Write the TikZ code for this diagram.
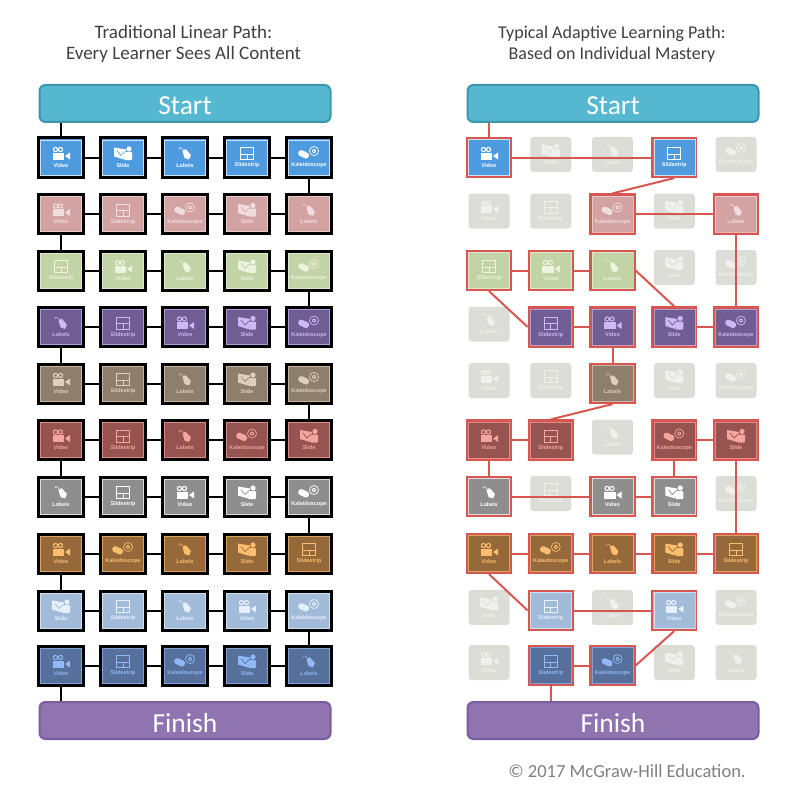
\documentclass[tikz,border=0pt]{standalone}
\usepackage{fontspec}
\setmainfont{Carlito}
\newfontfamily\tilefont{Liberation Sans}
\usepackage{xcolor}
\usetikzlibrary{calc}
\definecolor{startteal}{RGB}{85,184,208}
\definecolor{startedge}{RGB}{62,150,172}
\definecolor{finishpurple}{RGB}{143,116,176}
\definecolor{finishedge}{RGB}{120,94,158}
\definecolor{pathred}{RGB}{216,86,80}
\definecolor{idlegrey}{RGB}{221,221,216}
\definecolor{idlefg}{RGB}{240,240,237}
\definecolor{rowblue}{RGB}{79,155,223}
\definecolor{rowbluefg}{RGB}{255,255,255}
\definecolor{rowpink}{RGB}{211,163,163}
\definecolor{rowpinkfg}{RGB}{240,222,222}
\definecolor{rowgreen}{RGB}{194,211,165}
\definecolor{rowgreenfg}{RGB}{236,243,222}
\definecolor{rowpurple}{RGB}{111,93,148}
\definecolor{rowpurplefg}{RGB}{205,185,245}
\definecolor{rowtaupe}{RGB}{142,127,109}
\definecolor{rowtaupefg}{RGB}{222,208,188}
\definecolor{rowred}{RGB}{151,83,79}
\definecolor{rowredfg}{RGB}{245,165,160}
\definecolor{rowgrey}{RGB}{142,142,142}
\definecolor{rowgreyfg}{RGB}{255,255,255}
\definecolor{rowbrown}{RGB}{150,105,58}
\definecolor{rowbrownfg}{RGB}{250,190,110}
\definecolor{rowsky}{RGB}{162,187,217}
\definecolor{rowskyfg}{RGB}{230,240,252}
\definecolor{rownavy}{RGB}{86,111,155}
\definecolor{rownavyfg}{RGB}{145,185,245}
\tikzstyle{banner} = [rectangle, rounded corners=6pt, minimum width=291pt, minimum height=37pt, inner sep=0pt, text height=23pt, text depth=0pt, text centered, line width=2pt, text=white, font=\fontsize{27.5}{27.5}\selectfont]
\tikzstyle{heading} = [align=center, text=black!75]
\tikzstyle{blackbox} = [rectangle, minimum width=45pt, minimum height=39pt, inner sep=0pt, draw=black, line width=3pt]
\tikzstyle{redbox} = [rectangle, minimum width=44pt, minimum height=39pt, inner sep=0pt, draw=pathred, line width=2.2pt]
\tikzstyle{rim} = [rectangle, inner sep=0pt, line width=0.5pt, draw opacity=0.7]
\tikzstyle{idlebox} = [rectangle, rounded corners=3pt, minimum width=41pt, minimum height=35pt, inner sep=0pt, fill=idlegrey]
\tikzstyle{tiletext} = [inner sep=0pt, text=tilefg, font=\tilefont\bfseries\fontsize{5.4}{6}\selectfont]
\tikzstyle{blackline} = [line width=2pt, color=black]
\tikzstyle{redline} = [line width=2pt, color=pathred]
% Icons, drawn round (0,0) in tilefg and tilebg
\newcommand{\iconVideo}{
  \draw[tilefg, line width=1.1pt] (-5.5,-4) circle (2.1) (-0.5,-4) circle (2.1);
  \fill[tilefg] (-8.5,-1) rectangle (3,6);
  \fill[tilefg] (4,2.5) -- (9,-1) -- (9,6) -- cycle;
}
\newcommand{\iconSlide}{
  \fill[tilefg] (-9,-6) -- (3,-4) -- (1,6) -- (-9,3) -- cycle;
  \draw[tilebg, line width=0.7pt] (-6,-3) -- (-2,2) -- (2,-2);
  \fill[tilefg] (6,-4.5) circle (2.6);
  \fill[tilefg, rounded corners=1pt] (2,-1.5) -- (9,-1.5) -- (9,6.5) -- (1,6.5) -- cycle;
}
\newcommand{\iconLabels}{
  \fill[tilefg, rounded corners=0.6pt] (-2.5,-2.5) -- (0.5,-4.5) -- (6,1.5) -- (4,6) -- (-0.5,4.5) -- cycle;
  \draw[tilefg, line width=0.5pt] (-1.5,-2.5) .. controls (-3,-6) and (-6,-7) .. (-6,-4);
}
\newcommand{\iconSlidestrip}{
  \draw[tilefg, line width=1pt] (-6.5,-6) rectangle (6.5,6);
  \draw[tilefg, line width=1pt] (-6.5,0.5) -- (6.5,0.5) (0,0.5) -- (0,6);
}
\newcommand{\iconKaleidoscope}{
  \fill[tilefg, rotate=-25, rounded corners=2.5pt] (-10,0) rectangle (1,6);
  \draw[tilefg, line width=0.7pt] (5,-2.5) circle (4.5);
  \fill[tilefg] (5,-2.5) circle (2);
  \fill[tilebg] (5,-2.5) circle (0.8);
}
% Row: y / fill / foreground / tiles / tiles on the adaptive path
\def\rowdata{157.5/rowblue/rowbluefg/{Video,Slide,Labels,Slidestrip,Kaleidoscope}/{1,4},
  214/rowpink/rowpinkfg/{Video,Slidestrip,Kaleidoscope,Slide,Labels}/{3,5},
  270.5/rowgreen/rowgreenfg/{Slidestrip,Video,Labels,Slide,Kaleidoscope}/{1,2,3},
  327/rowpurple/rowpurplefg/{Labels,Slidestrip,Video,Slide,Kaleidoscope}/{2,3,4,5},
  383.5/rowtaupe/rowtaupefg/{Video,Slidestrip,Labels,Slide,Kaleidoscope}/{3},
  440/rowred/rowredfg/{Video,Slidestrip,Labels,Kaleidoscope,Slide}/{1,2,4,5},
  496.5/rowgrey/rowgreyfg/{Labels,Slidestrip,Video,Slide,Kaleidoscope}/{1,3,4},
  553.5/rowbrown/rowbrownfg/{Video,Kaleidoscope,Labels,Slide,Slidestrip}/{1,2,3,4,5},
  610.5/rowsky/rowskyfg/{Slide,Slidestrip,Labels,Video,Kaleidoscope}/{2,4},
  665.5/rownavy/rownavyfg/{Video,Slidestrip,Kaleidoscope,Slide,Labels}/{2,3}}
% Icon and caption of a tile: name, x, y, kind
\newcommand{\tileface}[4]{
  \begin{scope}[shift={(#2,#3-4)}]
    \csname icon#4\endcsname
  \end{scope}
  \node[tiletext] (#1-text) at (#2,#3+8) {#4};
}

\begin{document}
\begin{tikzpicture}[x=1pt, y=-1pt]
\useasboundingbox (0,0) rectangle (800,797);

% Headings
\node[heading, font=\fontsize{19}{21.5}\selectfont] (titleleft) at (183.5,44) {Traditional Linear Path:\\Every Learner Sees All Content};
\node[heading, font=\fontsize{18}{21}\selectfont] (titleright) at (612,44) {Typical Adaptive Learning Path:\\Based on Individual Mastery};

% Start and finish bars
\node[banner, draw=startedge, fill=startteal] (startleft) at (185,103.5) {Start};
\node[banner, draw=startedge, fill=startteal] (startright) at (613,103.5) {Start};
\node[banner, draw=finishedge, fill=finishpurple] (finishleft) at (185,720.5) {Finish};
\node[banner, draw=finishedge, fill=finishpurple] (finishright) at (613,720.5) {Finish};

% Linear path tiles
\foreach \y/\bg/\fg/\kinds/\act [count=\r] in \rowdata {
  \colorlet{tilefg}{\fg}
  \colorlet{tilebg}{\bg}
  \foreach \k [count=\c] in \kinds {
    \pgfmathsetmacro{\x}{61+62*(\c-1)}
    \node[blackbox, fill=\bg] (l\r-\c) at (\x,\y) {};
    \node[rim, draw=\fg, minimum width=41pt, minimum height=35pt] (l\r-\c-rim) at (\x,\y) {};
    \tileface{l\r-\c}{\x}{\y}{\k}
  }
}

% Adaptive path tiles
\foreach \y/\bg/\fg/\kinds/\act [count=\r] in \rowdata {
  \foreach \k [count=\c] in \kinds {
    \pgfmathsetmacro{\x}{489+61.75*(\c-1)}
    \gdef\onpath{0}
    \foreach \a in \act {\ifnum\a=\c \gdef\onpath{1}\fi}
    \ifnum\onpath=1
      \colorlet{tilefg}{\fg}
      \colorlet{tilebg}{\bg}
      \node[redbox, fill=\bg] (a\r-\c) at (\x,\y) {};
      \node[rim, draw=\fg, minimum width=41pt, minimum height=36pt] (a\r-\c-rim) at (\x,\y) {};
      \tileface{a\r-\c}{\x}{\y}{\k}
    \else
      \colorlet{tilefg}{idlefg}
      \colorlet{tilebg}{idlegrey}
      \pgfmathsetmacro{\yy}{\y-3}
      \node[idlebox] (a\r-\c) at (\x,\yy) {};
      \tileface{a\r-\c}{\x}{\yy}{\k}
    \fi
  }
}

% Linear connections
\draw[blackline] (l1-1.north) -- (l1-1.north |- startleft.south);
\foreach \r in {1,...,10} {
  \foreach \c [evaluate=\c as \n using int(\c+1)] in {1,...,4} {
    \draw[blackline] (l\r-\c.east) -- (l\r-\n.west);
  }
}
\foreach \a/\b/\c in {1/2/5, 2/3/1, 3/4/5, 4/5/1, 5/6/5, 6/7/1, 7/8/5, 8/9/1, 9/10/5} {
  \draw[blackline] (l\a-\c.south) -- (l\b-\c.north);
}
\draw[blackline] (l10-1.south) -- (l10-1.south |- finishleft.north);

% Adaptive connections, straight across a row
\foreach \a/\b in {a1-1/a1-4, a2-3/a2-5, a3-1/a3-2, a3-2/a3-3, a4-2/a4-3, a4-4/a4-5,
    a6-1/a6-2, a6-4/a6-5, a7-1/a7-3, a7-3/a7-4, a8-1/a8-2, a8-2/a8-3, a8-3/a8-4,
    a8-4/a8-5, a9-2/a9-4, a10-2/a10-3} {
  \draw[redline] (\a.east) -- (\b.west);
}
% Adaptive connections, down a column
\foreach \a/\b in {a2-5/a4-5, a4-3/a5-3, a6-1/a7-1, a6-4/a7-4, a6-5/a8-5} {
  \draw[redline] (\a.south) -- (\b.north);
}
% Adaptive connections, slanting
\draw[redline] (a1-4.south) -- (a2-3.north);
\draw[redline] (a3-3.east) -- (a4-4.north);
\draw[redline] (a3-1.south) -- (a4-2.west);
\draw[redline] (a5-3.south) -- (a6-2.north);
\draw[redline] (a8-1.south) -- (a9-2.west);
\draw[redline] (a10-3.east) -- (a9-4.south);
\draw[redline] (a1-1.north) -- (a1-1.north |- startright.south);
\draw[redline] (a10-2.south) -- (a10-2.south |- finishright.north);

% Copyright line
\node[text=black!50, font=\fontsize{18.5}{18.5}\selectfont] (rights) at (627,771) {© 2017 McGraw-Hill Education.};
\end{tikzpicture}
\end{document}
